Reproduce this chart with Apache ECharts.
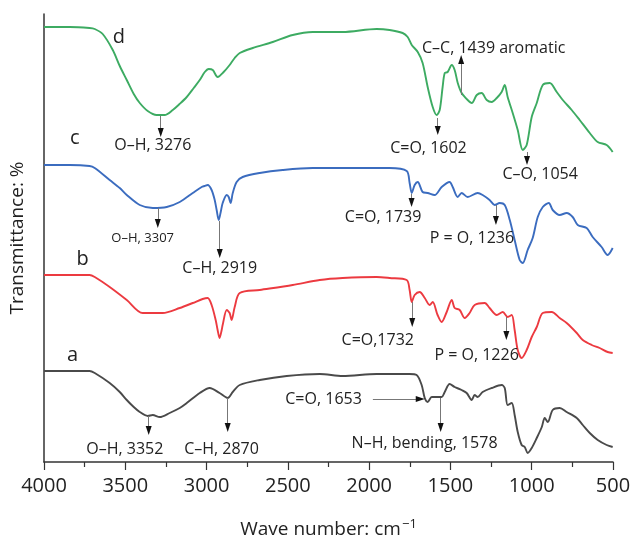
<!DOCTYPE html>
<html>
<head>
<meta charset="utf-8">
<script src="https://cdn.jsdelivr.net/npm/echarts@6/dist/echarts.min.js"></script>
<style>
html,body{margin:0;padding:0;background:#fff;}
#chart{width:631px;height:536px;}
</style>
</head>
<body>
<div id="chart"></div>
<script>
// x tick values (wave number, cm-1)
const xTicks = [4000, 3500, 3000, 2500, 2000, 1500, 1000, 500];

// Curve d (green)
const dWn = [4000,3842,3720,3688,3639,3577,3534,3491,3448,3411,3362,3307,3258,3208,3166,3122,3079,3042,3011,2987,2962,2932,2895,2858,2827,2796,2716,2593,2470,2347,2163,1954,1874,1794,1763,1738,1701,1671,1640,1609,1585,1566,1548,1535,1517,1492,1474,1455,1431,1394,1369,1338,1308,1277,1246,1215,1185,1166,1148,1117,1086,1055,1031,1000,969,932,889,846,809,754,705,643,594,539,502];
const dT  = [435,435,434,433,428,412,396,382,368,359,351,347,347,352,358,365,374,382,390,393,392,385,390,397,404,409,414,420,427,430,430,433,432,429,425,417,410,399,375,355,347,352,375,389,390,397,392,379,369,362,359,367,369,362,360,364,370,377,365,349,332,312,317,345,359,377,379,370,362,352,342,329,320,317,310];

// Curve c (blue)
const cWn = [4000,3842,3720,3688,3596,3534,3491,3411,3331,3245,3165,3085,3030,3012,2993,2969,2950,2938,2925,2913,2901,2876,2864,2852,2839,2815,2778,2673,2532,2347,2163,1954,1874,1769,1751,1738,1720,1701,1671,1640,1597,1554,1505,1486,1455,1431,1394,1332,1302,1259,1228,1197,1166,1135,1105,1074,1055,1025,994,963,932,895,871,828,785,748,717,662,625,570,533,502];
const cT  = [297,297,296,294,282,274,267,257,254,255,260,269,275,276,277,272,262,252,242,250,259,267,265,259,269,280,285,289,292,294,294,294,294,291,279,269,277,280,270,269,267,275,280,275,265,269,265,269,267,262,257,259,257,242,222,202,199,212,224,245,255,259,252,247,249,245,237,234,225,215,207,214];

// Curve b (red)
const bWn = [4000,3842,3720,3688,3596,3491,3393,3270,3165,3085,3024,2993,2969,2944,2932,2920,2907,2901,2876,2858,2846,2827,2796,2673,2470,2304,2163,1954,1874,1769,1751,1738,1720,1689,1658,1628,1609,1579,1554,1523,1492,1474,1443,1412,1382,1351,1289,1259,1215,1178,1148,1123,1105,1086,1062,1031,1000,969,932,877,828,785,723,686,631,582,533,502];
const bT  = [187,187,187,185,175,162,149,149,154,159,163,164,157,142,132,124,132,137,152,149,142,155,169,172,177,182,184,185,184,182,172,160,167,170,164,157,160,147,140,150,162,154,152,144,149,157,159,154,147,150,145,147,132,112,104,112,125,135,149,150,144,139,129,122,117,114,110,109];

// Curve a (dark grey)
const aWn = [4000,3842,3720,3688,3596,3534,3491,3448,3411,3362,3331,3288,3227,3165,3122,3042,2981,2920,2870,2839,2796,2673,2507,2304,2163,1954,1751,1708,1677,1658,1640,1615,1585,1554,1535,1505,1474,1431,1400,1369,1351,1332,1302,1246,1185,1166,1148,1123,1105,1086,1062,1043,1025,1000,969,938,920,901,871,828,785,723,686,643,594,539,502];
const aT  = [91,91,91,89,79,70,62,55,50,46,47,45,49,54,59,69,74,69,64,70,77,82,86,88,86,88,88,87,77,64,60,65,65,65,70,78,75,72,69,62,67,65,70,74,77,74,57,59,47,30,17,15,9,14,24,35,44,40,52,54,50,44,37,29,22,17,15];

// Curve letters: [text, wave number, value]
const curveLetters = [['d',3540,425],['c',3811,324],['b',3762,203],['a',3824,107]];

// Peak annotations: series, text, arrow wave number, arrow start, arrow tip, label wave number, label value
const peakText   = ['O–H, 3276','O–H, 3307','C–H, 2919','C=O, 1739','P = O, 1236','C=O, 1602','C–O, 1054','C–C, 1439 aromatic','C=O,1732','P = O, 1226','N–H, bending, 1578','O–H, 3352','C–H, 2870'];
const peakSeries = [0,1,1,1,1,0,0,0,2,2,3,3,3];
const peakWn     = [3282,3300,2919,1739,1220,1578,1029,1434,1735,1156,1560,3356,2870];
const peakFrom   = [346,254,241,268,257,344,310,367,160,145,64,46,64];
const peakTip    = [325,234,204,255,237,327,297,407,135,122,30,27,30];
const labelWn    = [3331,3393,2919,1914,1368,1635,948,1234,1947,1339,1659,3503,2908];
const labelT     = [317,224,194,245,224,314,288,414,122,107,19,13,13];
const smallLabel = [false,true,false,false,false,false,false,false,false,false,false,false,false];

// Horizontal arrow annotation (C=O, 1653 on curve a)
const hText = 'C=O, 1653';
const hFromWn = 1977, hTipWn = 1658, hT = 63, hLabelWn = 2045;

const FONT = 'Open Sans';
const colors = ['#3dab62','#3b6cbf','#ec3a40','#4a4a4a'];
const curves = [[dWn,dT],[cWn,cT],[bWn,bT],[aWn,aT]];

const seriesList = curves.map(function(cv, si){
  const data = cv[0].map(function(w,i){ return [w, cv[1][i]]; });
  const lines = [], points = [];
  const L = curveLetters[si];
  points.push({coord:[L[1],L[2]], symbol:'circle', symbolSize:0,
    label:{show:true, position:'inside', formatter:L[0], fontSize:20, color:'#222', fontFamily:FONT}});
  peakText.forEach(function(t,k){
    if (peakSeries[k] !== si) return;
    const up = peakTip[k] > peakFrom[k];
    const center = up ? peakTip[k] - 4.5 : peakTip[k] + 4.5;
    lines.push([{coord:[peakWn[k], peakFrom[k]]},{coord:[peakWn[k], center]}]);
    points.push({coord:[peakWn[k], center], symbol:'triangle', symbolSize:[6,9], symbolRotate: up ? 0 : 180,
      itemStyle:{color:'#111'}, label:{show:false}});
    points.push({coord:[labelWn[k], labelT[k]], symbol:'circle', symbolSize:0,
      label:{show:true, position:'inside', formatter:t, fontSize: smallLabel[k] ? 13 : 16, color:'#222', fontFamily:FONT}});
  });
  if (si === 3) {
    const hc = hTipWn + 4.5*6.151;
    lines.push([{coord:[hFromWn, hT]},{coord:[hc, hT]}]);
    points.push({coord:[hc, hT], symbol:'triangle', symbolSize:[6,9], symbolRotate:-90,
      itemStyle:{color:'#111'}, label:{show:false}});
    points.push({coord:[hLabelWn, hT], symbol:'circle', symbolSize:0,
      label:{show:true, position:'inside', align:'right', formatter:hText, fontSize:16, color:'#222', fontFamily:FONT}});
  }
  return {
    type:'line', data:data, showSymbol:false, smooth:0.3,
    lineStyle:{color:colors[si], width:1.9}, itemStyle:{color:colors[si]},
    silent:true, animation:false, z: 2,
    markLine:{silent:true, symbol:['none','none'], label:{show:false}, animation:false,
      lineStyle:{color:'#777', width:1, type:'solid'}, data:lines},
    markPoint:{silent:true, animation:false, data:points}
  };
});

const chart = echarts.init(document.getElementById('chart'), null, {renderer:'canvas'});
chart.setOption({
  backgroundColor:'#ffffff',
  animation:false,
  grid:{left:44, right:18, top:14, bottom:74, containLabel:false, outerBoundsMode:'none'},
  xAxis:{
    type:'value', min:500, max:4000, interval:500, inverse:true,
    name:'Wave number: cm{sup|−1}', nameLocation:'middle', nameGap:56,
    nameTextStyle:{fontSize:19, color:'#222', fontFamily:FONT, lineHeight:24,
      rich:{sup:{fontSize:13, color:'#222', fontFamily:FONT, verticalAlign:'top', lineHeight:24, padding:[0,0,6,1]}}},
    axisLine:{show:true, lineStyle:{color:'#333', width:1.5}},
    axisTick:{show:true, inside:false, length:8, lineStyle:{color:'#333', width:1.2}},
    minorTick:{show:true, splitNumber:2, length:5, lineStyle:{color:'#333', width:1.2}},
    axisLabel:{fontSize:20, color:'#222', fontFamily:FONT, margin:14,
      formatter:function(v){ return xTicks.indexOf(v) >= 0 ? String(v) : ''; }},
    splitLine:{show:false}, minorSplitLine:{show:false}
  },
  yAxis:{
    type:'value', min:0, max:448,
    name:'Transmittance: %', nameLocation:'middle', nameGap:17, nameRotate:90,
    nameTextStyle:{fontSize:19, color:'#222', fontFamily:FONT},
    axisLine:{show:true, lineStyle:{color:'#333', width:1.5}},
    axisTick:{show:false}, axisLabel:{show:false}, splitLine:{show:false}
  },
  series: seriesList
});
</script>
</body>
</html>
